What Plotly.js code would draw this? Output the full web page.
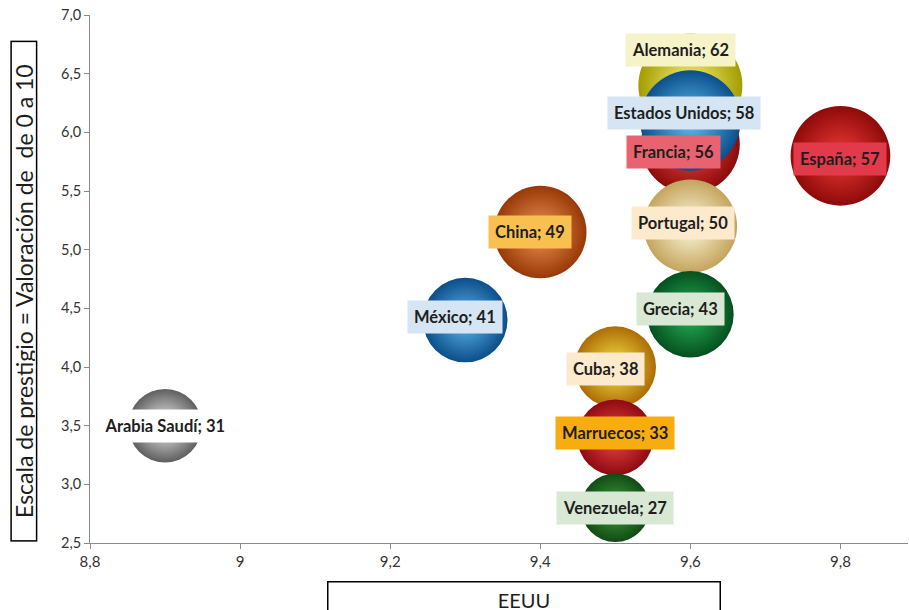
<!DOCTYPE html>
<html>
<head>
<meta charset="utf-8">
<script src="https://cdn.plot.ly/plotly-3.0.1.min.js"></script>
<style>html,body{margin:0;padding:0;background:#fff}#chart{width:909px;height:610px}</style>
</head>
<body>
<div id="chart"></div>
<script>
// Data (draw order: back to front)
var countries = ["Alemania", "Francia", "Estados Unidos", "España", "Portugal", "China", "México", "Grecia", "Cuba", "Marruecos", "Venezuela", "Arabia Saudí"];
var eeuuScore = [9.6, 9.6, 9.6, 9.8, 9.6, 9.4, 9.3, 9.6, 9.5, 9.5, 9.5, 8.9];
var prestigio = [6.4, 5.9, 6.1, 5.8, 5.2, 5.15, 4.4, 4.45, 4.0, 3.4, 2.8, 3.5];
var bubbleValue = [62, 56, 58, 57, 50, 49, 41, 43, 38, 33, 27, 31];
var xTickVals = [8.8, 9, 9.2, 9.4, 9.6, 9.8];
var yTickVals = [2.5, 3.0, 3.5, 4.0, 4.5, 5.0, 5.5, 6.0, 6.5, 7.0];

// Styles
var edgeColors = ["#a39c00", "#8c0a0a", "#0b4f8c", "#8e0a0a", "#c4a45c", "#973806", "#0b4e8a", "#05501f", "#ad6c06", "#8e0a10", "#124a14", "#5e5e5e"];
var centerColors = ["#f7f27a", "#f24a4a", "#62c2f2", "#f03a36", "#fffbe2", "#f29658", "#62baf0", "#26b556", "#fae448", "#f24646", "#3ea43e", "#f4f4f4"];
var labelBg = ["#f6f3c9", "#e8636f", "#d5e5f3", "#e23a4a", "#fde9cb", "#fac04f", "#d5e5f3", "#d8e8d4", "#fde9cb", "#f7ac0f", "#d8e8d4", "#ffffff"];
var labelXShift = [-10, -17, -6, 0, -7, -10, -10, -10, -10, 0, 0, 0];
var labelYShift = [35, -8, 8, -3, 3, 0, 3, 5, -2, 4, 0, 0];
var labelPadX = [0, 0, 0, 0, 0, 0, 0, 0, 0, 0, 0, 1];

var maxR = 52;
var sizeref = Math.max.apply(null, bubbleValue) / 2 / (maxR * maxR);

var trace = {
  type: "scatter",
  mode: "markers",
  x: eeuuScore,
  y: prestigio,
  hoverinfo: "skip",
  marker: {
    size: bubbleValue,
    sizemode: "area",
    sizeref: sizeref,
    color: edgeColors,
    opacity: 1,
    line: {width: 0},
    gradient: {type: "radial", color: centerColors}
  }
};

var annotations = countries.map(function (c, i) {
  var t = "<b>" + c + "; " + bubbleValue[i] + "</b>";
  if (labelPadX[i]) t = "\u00a0\u00a0" + t + "\u00a0\u00a0";
  return {
    x: eeuuScore[i], y: prestigio[i], xref: "x", yref: "y",
    text: t,
    showarrow: false,
    xshift: labelXShift[i], yshift: labelYShift[i],
    bgcolor: labelBg[i],
    borderpad: 6,
    font: {family: "Lato, 'Open Sans', sans-serif", size: 16.5, color: "#1e1e1e"}
  };
});

annotations.push({
  xref: "paper", yref: "paper", x: -0.0813, y: 0.477,
  xanchor: "center", yanchor: "middle",
  text: "Escala de prestigio = Valoración de \u00a0de 0 a 10",
  textangle: -90, showarrow: false,
  width: 496, height: 22,
  bordercolor: "#000", borderwidth: 1.5, borderpad: 1, bgcolor: "#fff",
  font: {family: "Lato, 'Open Sans', sans-serif", size: 23, color: "#1e1e1e"}
});
annotations.push({
  xref: "paper", yref: "paper", x: 0.530, y: -0.072,
  xanchor: "center", yanchor: "top",
  text: "EEUU", showarrow: false,
  width: 389, height: 32,
  bordercolor: "#000", borderwidth: 1.5, borderpad: 1, bgcolor: "#fff",
  font: {family: "'Liberation Sans Narrow', Lato, sans-serif", size: 20, color: "#1e1e1e"}
});

var layout = {
  width: 909, height: 610,
  margin: {l: 90, r: 1, t: 15, b: 67},
  paper_bgcolor: "#fff", plot_bgcolor: "#fff",
  separators: ",.",
  showlegend: false,
  xaxis: {
    range: [8.8, 9.89], tickvals: xTickVals, showgrid: false, zeroline: false,
    showline: true, linecolor: "#8a8a8a", linewidth: 1,
    ticks: "outside", ticklen: 5, tickcolor: "#8a8a8a",
    tickfont: {family: "'Liberation Sans Narrow', Lato, sans-serif", size: 15, color: "#333"}
  },
  yaxis: {
    range: [2.5, 7.0], tickvals: yTickVals, tickformat: ".1f", showgrid: false, zeroline: false,
    showline: true, linecolor: "#8a8a8a", linewidth: 1,
    ticks: "outside", ticklen: 5, tickcolor: "#8a8a8a",
    tickfont: {family: "Lato, 'Open Sans', sans-serif", size: 14.5, color: "#333"}
  },
  annotations: annotations
};

Plotly.newPlot("chart", [trace], layout, {staticPlot: true, displayModeBar: false});
</script>
</body>
</html>
